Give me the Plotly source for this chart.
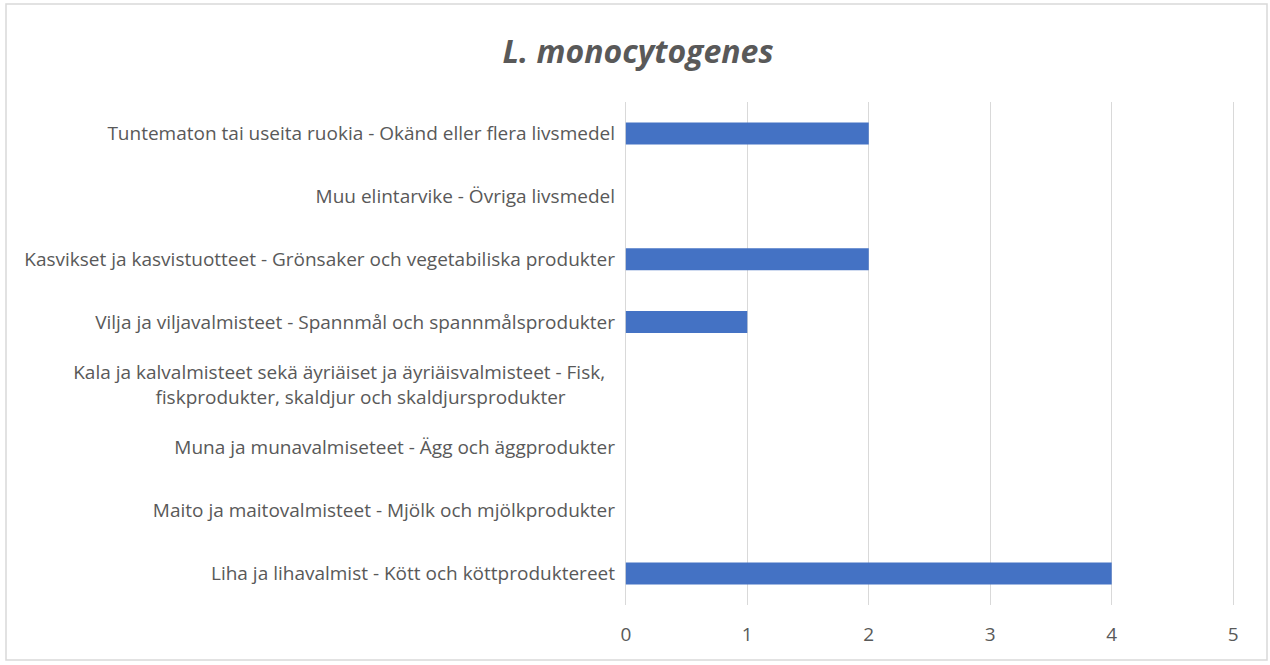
import plotly.graph_objects as go

NB = "&nbsp;"
categories = [
    "Liha ja lihavalmist - Kött och köttproduktereet",
    "Maito ja maitovalmisteet - Mjölk och mjölkprodukter",
    "Muna ja munavalmiseteet - Ägg och äggprodukter",
    "Kala ja kalvalmisteet sekä äyriäiset ja äyriäisvalmisteet - Fisk," + NB * 2
    + "<br>fiskprodukter, skaldjur och skaldjursprodukter" + NB * 10,
    "Vilja ja viljavalmisteet - Spannmål och spannmålsprodukter",
    "Kasvikset ja kasvistuotteet - Grönsaker och vegetabiliska produkter",
    "Muu elintarvike - Övriga livsmedel",
    "Tuntematon tai useita ruokia - Okänd eller flera livsmedel",
]
values = [4, 0, 0, 0, 1, 2, 0, 2]
x_ticks = [0, 1, 2, 3, 4, 5]

FONT = "Open Sans"
TXT = "#595959"

fig = go.Figure(go.Bar(
    y=categories, x=values, orientation="h",
    marker=dict(color="#4472C4", line=dict(width=0)),
    width=0.35,
))

L, R, T, B = 624, 35, 102, 60
W, H = 1270, 665
pw, ph = W - L - R, H - T - B

def px_x(p):
    return (p - L) / pw

def px_y(p):
    return (H - B - p) / ph

fig.update_layout(
    width=W, height=H,
    margin=dict(l=L, r=R, t=T, b=B),
    paper_bgcolor="white", plot_bgcolor="white",
    showlegend=False,
    title=dict(
        text="<b><i>L. monocytogenes</i></b>",
        x=638 / W, xref="container", xanchor="center",
        y=1 - 52 / H, yref="container", yanchor="middle",
        font=dict(family=FONT, size=32, color=TXT),
    ),
    xaxis=dict(
        range=[-0.015, 5.015], tickvals=x_ticks, showgrid=True, gridcolor="#D9D9D9",
        gridwidth=1.3, zeroline=False, showline=False, ticks="",
        ticklabelstandoff=16,
        tickfont=dict(family=FONT, size=19, color=TXT),
    ),
    yaxis=dict(
        categoryorder="array", categoryarray=categories,
        showgrid=False, zeroline=False, showline=False, ticks="",
        ticklabelstandoff=8,
        tickfont=dict(family=FONT, size=19, color=TXT),
    ),
    shapes=[dict(
        type="rect", xref="paper", yref="paper",
        x0=px_x(6), x1=px_x(1267), y0=px_y(660), y1=px_y(4),
        line=dict(color="#D9D9D9", width=1.5), fillcolor="rgba(0,0,0,0)",
        layer="below",
    )],
)

fig.write_html("out.html", config={"displayModeBar": False},
               post_script="document.body.style.margin='0';")
